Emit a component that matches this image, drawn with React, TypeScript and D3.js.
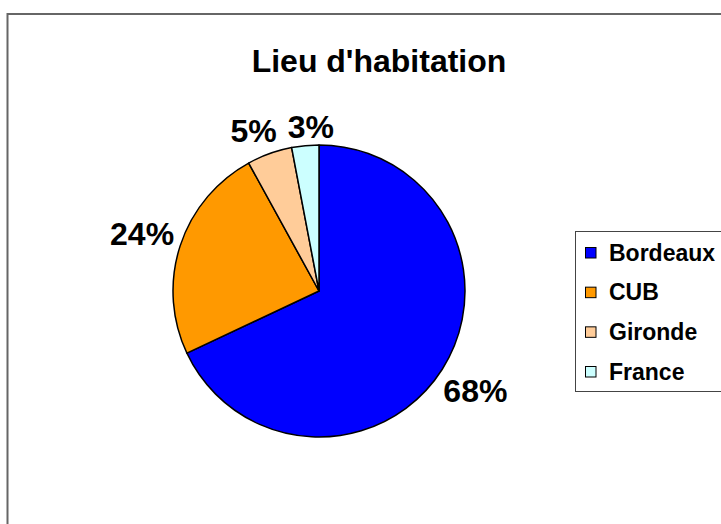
import React, { useRef, useEffect } from "react";
import * as d3 from "d3";

const categories = ["Bordeaux", "CUB", "Gironde", "France"];
const values = [68, 24, 5, 3];
const colors = ["#0000FF", "#FF9900", "#FFCC99", "#CCFFFF"];
const title = "Lieu d'habitation";

const App = () => {
  const svgRef = useRef<SVGSVGElement>(null);

  useEffect(() => {
    if (!svgRef.current) return;
    const width = 721;
    const height = 524;
    const cx = 319;
    const cy = 291;
    const radius = 146;
    const font = "'Liberation Sans', Arial, Helvetica, sans-serif";

    const svg = d3.select(svgRef.current);
    svg.selectAll("*").remove();

    // outer chart frame (runs off the right and bottom)
    svg
      .append("rect")
      .attr("x", 7.5)
      .attr("y", 14)
      .attr("width", width + 50)
      .attr("height", height + 50)
      .attr("fill", "#fff")
      .attr("stroke", "#666")
      .attr("stroke-width", 2);

    svg
      .append("text")
      .attr("x", 379)
      .attr("y", 72)
      .attr("text-anchor", "middle")
      .style("font-family", font)
      .style("font-weight", "bold")
      .style("font-size", "32px")
      .text(title);

    const total = d3.sum(values);
    const pie = d3
      .pie<number>()
      .sort(null)
      .value((d) => d);
    const arcs = pie(values);
    const arc = d3.arc<d3.PieArcDatum<number>>().innerRadius(0).outerRadius(radius);

    const g = svg.append("g").attr("transform", `translate(${cx},${cy})`);

    g.selectAll("path")
      .data(arcs)
      .join("path")
      .attr("d", arc)
      .attr("fill", (_, i) => colors[i])
      .attr("stroke", "#000")
      .attr("stroke-width", 1.5)
      .attr("stroke-linejoin", "round");

    // percentage labels, placed just outside the edge (measured boxes)
    const fontSize = 32;
    const fmt = (v: number) => `${Math.round((v / total) * 100)}%`;
    const labels = g
      .selectAll<SVGTextElement, d3.PieArcDatum<number>>("text.pct")
      .data(arcs)
      .join("text")
      .attr("class", "pct")
      .attr("text-anchor", "middle")
      .style("font-family", font)
      .style("font-weight", "bold")
      .style("font-size", `${fontSize}px`)
      .text((d) => fmt(d.value));

    const h = fontSize * 0.72;
    const pos = labels.nodes().map((node, i) => {
      const d = arcs[i];
      const w = node.getComputedTextLength();
      const a = (d.startAngle + d.endAngle) / 2;
      const s = Math.sin(a);
      const c = -Math.cos(a);
      const dist = radius + 6 + Math.abs(s) * (w / 2) + Math.abs(c) * (h / 2);
      return { x: s * dist, y: c * dist, w };
    });

    // push apart neighbouring labels that crowd each other
    for (let i = 0; i < pos.length - 1; i++) {
      const p = pos[i];
      const q = pos[i + 1];
      if (Math.abs(p.y - q.y) < h) {
        const gap = Math.abs(q.x - p.x) - (p.w + q.w) / 2;
        if (gap < 11) {
          const shift = (11 - gap) / 2;
          const dir = q.x > p.x ? 1 : -1;
          p.x -= dir * shift;
          q.x += dir * shift;
        }
      }
    }

    labels.attr("transform", (_, i) => `translate(${pos[i].x},${pos[i].y + h / 2})`);

    // legend
    const legend = svg.append("g");
    legend
      .append("rect")
      .attr("x", 575.5)
      .attr("y", 231.5)
      .attr("width", 200)
      .attr("height", 160)
      .attr("fill", "#fff")
      .attr("stroke", "#444")
      .attr("stroke-width", 1);

    const y = d3
      .scalePoint<string>()
      .domain(categories)
      .range([252.5, 371.5]);

    const items = legend
      .selectAll("g.item")
      .data(categories)
      .join("g")
      .attr("class", "item")
      .attr("transform", (d) => `translate(0,${y(d)})`);

    items
      .append("rect")
      .attr("x", 585.5)
      .attr("y", -5)
      .attr("width", 10.5)
      .attr("height", 10.5)
      .attr("fill", (_, i) => colors[i])
      .attr("stroke", "#000")
      .attr("stroke-width", 1);

    items
      .append("text")
      .attr("x", 609)
      .attr("y", 8)
      .style("font-family", font)
      .style("font-weight", "bold")
      .style("font-size", "23px")
      .text((d) => d);
  }, []);

  return (
    <svg
      ref={svgRef}
      width={721}
      height={524}
      style={{ position: "absolute", left: 0, top: 0, background: "#fff" }}
    />
  );
};

export default App;
